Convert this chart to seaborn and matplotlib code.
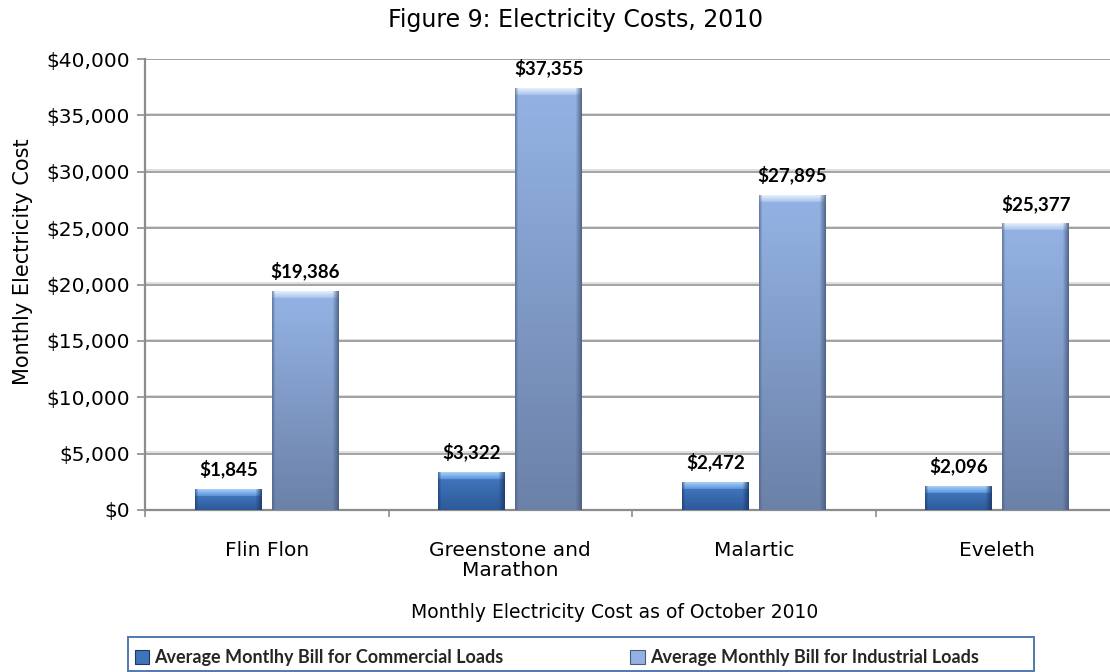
import numpy as np
import pandas as pd
import matplotlib
matplotlib.use("Agg")
import matplotlib.pyplot as plt
import matplotlib.transforms as mtransforms
import seaborn as sns
from matplotlib.colors import to_rgb
from matplotlib.patches import Patch, Rectangle
from matplotlib.ticker import FuncFormatter, FixedLocator

# ---- data -------------------------------------------------------------
towns = ["Flin Flon", "Greenstone and\nMarathon", "Malartic", "Eveleth"]
commercial = [1845, 3322, 2472, 2096]
industrial = [19386, 37355, 27895, 25377]
series = ["Average Montlhy Bill for Commercial Loads",
          "Average Monthly Bill for Industrial Loads"]
y_ticks = [0, 5000, 10000, 15000, 20000, 25000, 30000, 35000, 40000]

df = pd.DataFrame({
    "town": towns * 2,
    "cost": commercial + industrial,
    "load": [series[0]] * len(towns) + [series[1]] * len(towns),
})

# ---- style ------------------------------------------------------------
sns.set_theme(style="white")
plt.rcParams["font.family"] = ["DejaVu Sans"]
label_font = ["Lato", "DejaVu Sans"]

W, H = 1110, 672
fig = plt.figure(figsize=(W / 100, H / 100), dpi=100)
fig.patch.set_facecolor("white")

# plot area (pixels): left, right, top, bottom
px0, px1, py_top, py_bot = 145, 1119, 59, 510
ax = fig.add_axes([px0 / W, 1 - py_bot / H, (px1 - px0) / W, (py_bot - py_top) / H])

base = {series[0]: "#3a6bb2", series[1]: "#8aa7d8"}
sns.barplot(data=df, x="town", y="cost", hue="load", palette=base,
            width=0.631, gap=0.13, saturation=1, legend=False,
            edgecolor="none", linewidth=0, ax=ax, zorder=3)

ax.set_xlim(-0.5, len(towns) - 0.5)
ax.set_ylim(0, 40000)

# ---- bevelled bar shading ----------------------------------------------
shades = {
    series[0]: dict(cap=("#a4cdf8", "#5f97dc"), body=("#3f73ba", "#2d5a9a"), edge="#1b3a6a"),
    series[1]: dict(cap=("#e2eefc", "#a9c5ec"), body=("#93b2e3", "#6b81a8"), edge="#4a5c7e"),
}


def lerp(c0, c1, t):
    c0, c1 = np.array(to_rgb(c0)), np.array(to_rgb(c1))
    t = np.asarray(t)[..., None]
    return c0 * (1 - t) + c1 * t


fig.canvas.draw()
bars = [p for p in ax.patches]
for p in bars:
    fc = p.get_facecolor()[:3]
    key = min(base, key=lambda k: np.abs(np.array(to_rgb(base[k])) - np.array(fc)).sum())
    sty = shades[key]
    bb = p.get_window_extent()
    nr = max(int(round(bb.height)), 2)
    nc = max(int(round(bb.width)), 2)
    band = min(7, nr // 2)
    rows = np.arange(nr)
    col = np.empty((nr, 3))
    if band > 0:
        col[:band] = lerp(sty["cap"][0], sty["cap"][1], rows[:band] / max(band - 1, 1))
    rest = rows[band:]
    col[band:] = lerp(sty["body"][0], sty["body"][1], (rest - band) / max(nr - band - 1, 1))
    img = np.repeat(col[:, None, :], nc, axis=1)
    xs = np.arange(nc)
    left = np.clip(1 - xs / 3.0, 0, 1) * 0.6
    right = np.clip(1 - (nc - 1 - xs) / 6.0, 0, 1) * 0.85
    k = np.maximum(left, right)[None, :, None]
    img = img * (1 - k) + np.array(to_rgb(sty["edge"]))[None, None, :] * k
    x0, y0 = p.get_x(), p.get_y()
    ax.imshow(img, extent=(x0, x0 + p.get_width(), y0, y0 + p.get_height()),
              aspect="auto", interpolation="bilinear", zorder=4)

ax.set_xlim(-0.5, len(towns) - 0.5)
ax.set_ylim(0, 40000)
ax.set_aspect("auto")

# ---- value labels --------------------------------------------------------
n = len(towns)
for p in bars:
    v = p.get_height()
    ax.annotate(f"${v:,.0f}", (p.get_x() + p.get_width() / 2, v),
                xytext=(0, 8), textcoords="offset points",
                ha="center", va="bottom", fontsize=13.5, fontweight="bold",
                family=label_font, color="black", zorder=5)

# ---- axes ----------------------------------------------------------------
ax.yaxis.set_major_locator(FixedLocator(y_ticks))
ax.yaxis.set_major_formatter(FuncFormatter(lambda v, _: f"${v:,.0f}"))
# embossed gridlines: a pale line sitting just above a grey one
lift = mtransforms.offset_copy(ax.get_yaxis_transform(), fig=fig, x=0, y=1.3, units="dots")
for t in y_ticks[1:]:
    ax.axhline(t, color="#9c9c9c", linewidth=1.3, zorder=0.6)
    ax.plot([0, 1], [t, t], transform=lift, color="#d6d6d6", linewidth=1.1,
            zorder=0.5, solid_capstyle="butt")
for s in ["top", "right"]:
    ax.spines[s].set_visible(False)
for s in ["left", "bottom"]:
    ax.spines[s].set_color("#8c8c8c")
    ax.spines[s].set_linewidth(1.6)

ax.tick_params(axis="y", which="major", direction="out", length=6, width=1.2,
               color="#8c8c8c", left=True, labelsize=14.5, labelcolor="black", pad=5)
ax.set_xticks(range(n))
ax.set_xticklabels(towns, fontsize=14.5, color="black", linespacing=1.1)
ax.set_xticks(np.arange(-0.5, n, 1.0), minor=True)
ax.tick_params(axis="x", which="major", length=0, pad=22)
ax.tick_params(axis="x", which="minor", direction="out", length=5, width=1.2,
               color="#8c8c8c", bottom=True)
ax.set_xlim(-0.5, len(towns) - 0.5)
ax.set_ylim(0, 40000)

ax.set_xlabel("")
ax.set_ylabel("")
fig.text(23 / W, 1 - 262 / H, "Monthly Electricity Cost", rotation=90,
         ha="center", va="center", fontsize=15, color="black")
fig.text(615 / W, 1 - 612 / H, "Monthly Electricity Cost as of October 2010",
         ha="center", va="center", fontsize=13.5, color="black")
fig.text(576 / W, 1 - 27 / H, "Figure 9: Electricity Costs, 2010",
         ha="center", va="baseline", fontsize=17, color="black")

# ---- legend ----------------------------------------------------------------
lx0, lx1, ly0, ly1 = 128, 1034, 637, 671
fig.patches.append(Rectangle((lx0 / W, 1 - ly1 / H), (lx1 - lx0) / W, (ly1 - ly0) / H,
                             transform=fig.transFigure, facecolor="white",
                             edgecolor="#5079b0", linewidth=1.4, zorder=1))
handles = [Patch(facecolor=shades[s]["body"][0], edgecolor=shades[s]["edge"], linewidth=0.8)
           for s in series]
fig.legend(handles, series, loc="center left", ncol=2,
           bbox_to_anchor=((lx0 - 6) / W, 1 - 658 / H),
           frameon=False, handlelength=0.8, handleheight=0.8, handletextpad=0.3,
           columnspacing=7.0, borderpad=0.2,
           prop=dict(family=label_font, weight="bold", size=13))

fig.savefig("out.png", dpi=100, facecolor="white")
